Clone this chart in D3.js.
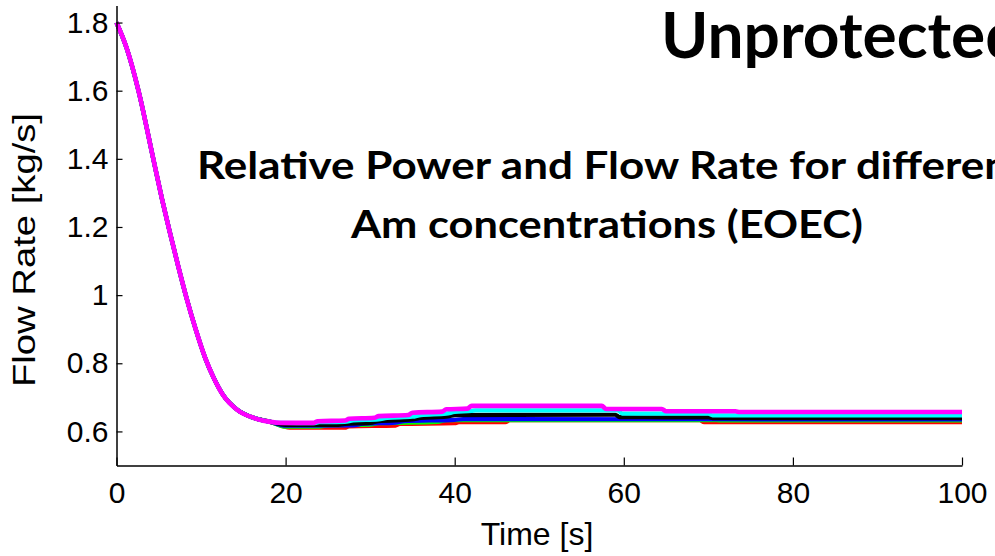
<!DOCTYPE html>
<html>
<head>
<meta charset="utf-8">
<script src="https://cdn.jsdelivr.net/npm/d3@7"></script>
<style>
  html, body { margin: 0; padding: 0; background: #fff; }
  svg { display: block; }
</style>
</head>
<body>
<svg id="chart" width="995" height="556"></svg>
<script>
// ---- Data ----
const xTicks = [0, 20, 40, 60, 80, 100];
const yTicks = [0.6, 0.8, 1.0, 1.2, 1.4, 1.6, 1.8];
const yTickLabels = ["0.6", "0.8", "1", "1.2", "1.4", "1.6", "1.8"];

// common pump coast-down part [time s, flow kg/s]
const coastdown = [[0,1.80],[1.2,1.725],[2.6,1.60],[4.35,1.40],[5.4,1.28],[6.3,1.185],[7.3,1.085],
  [8.3,0.99],[9.3,0.905],[10.5,0.815],[11.5,0.757],[12.6,0.707],[14.3,0.663],[16.2,0.640],[18.2,0.628]];

// plateau parts per Am concentration
const redFlow = [[20.5,0.611],[27,0.611],[27.5,0.615],[33,0.617],[33.5,0.622],[40,0.624],[40.5,0.627],
  [46,0.627],[46.5,0.633],[69,0.633],[69.5,0.627],[100,0.627]];
const greenFlow = [[20,0.614],[24,0.614],[25,0.618],[30,0.620],[31,0.624],[38,0.628],[39,0.633],
  [71,0.633],[71.5,0.632],[100,0.632]];
const blueFlow = [[20,0.617],[28,0.618],[29,0.622],[33,0.626],[34,0.630],[40,0.634],[41,0.636],[100,0.635]];
const blackFlow = [[20,0.619],[26,0.619],[27,0.622],[30,0.625],[31,0.630],[35,0.635],[36,0.640],[39,0.643],
  [40,0.648],[59,0.649],[59.5,0.642],[70,0.641],[70.5,0.639],[100,0.639]];
const cyanFlow = [[19.4,0.625],[23.3,0.624],[24,0.627],[27,0.628],[28,0.632],[31,0.635],[32,0.640],[35,0.643],
  [36,0.648],[39,0.652],[40,0.657],[42,0.660],[42.5,0.662],[59.3,0.662],[59.8,0.652],[70,0.652],[70.5,0.647],[100,0.647]];
const magentaFlow = [[19.4,0.625],[23.3,0.625],[23.8,0.630],[27,0.632],[27.5,0.637],[30.5,0.640],[31,0.645],
  [34.5,0.648],[35,0.655],[38.5,0.658],[39,0.665],[41.5,0.667],[42,0.675],[57.4,0.675],[57.9,0.666],
  [64.5,0.666],[65,0.659],[73.2,0.659],[73.7,0.657],[100,0.657]];

const seriesNames = ["red", "green", "blue", "black", "cyan", "magenta"];
const seriesColors = ["#ff0000", "#00ff00", "#0000ff", "#000000", "#00ffff", "#ff00ff"];
const seriesData = [redFlow, greenFlow, blueFlow, blackFlow, cyanFlow, magentaFlow];

const mainTitle = "Unprotected";
const subTitle1 = "Relative Power and Flow Rate for different";
const subTitle2 = "Am concentrations (EOEC)";
const xLabel = "Time [s]";
const yLabel = "Flow Rate [kg/s]";

// ---- Drawing ----
const svg = d3.select("#chart");
const x = d3.scaleLinear().domain([0, 100]).range([116.5, 962]);
const y = d3.scaleLinear().domain([0.5, 1.85]).range([465.5, 5.5]);

const line = d3.line().x(d => x(d[0])).y(d => y(d[1])).curve(d3.curveMonotoneX);

seriesData.forEach((pts, i) => {
  svg.append("path")
    .datum(coastdown.concat(pts))
    .attr("fill", "none")
    .attr("stroke", seriesColors[i])
    .attr("stroke-width", i === 5 ? 4.6 : 4.2)
    .attr("stroke-linejoin", "round")
    .attr("d", line);
});

const tickFont = "'Liberation Sans', Arial, sans-serif";

const xAxis = d3.axisBottom(x).tickValues(xTicks).tickFormat(d3.format("d"))
  .tickSizeInner(-8).tickSizeOuter(0).tickPadding(16);
const gx = svg.append("g").attr("transform", `translate(0,${y(0.5)})`).call(xAxis);

const yAxis = d3.axisLeft(y).tickValues(yTicks).tickFormat((d, i) => yTickLabels[i])
  .tickSizeInner(-6).tickSizeOuter(0).tickPadding(8);
const gy = svg.append("g").attr("transform", `translate(${x(0)},0)`).call(yAxis);

[gx, gy].forEach(g => {
  g.select(".domain").attr("stroke", "#000").attr("stroke-width", 1.5);
  g.selectAll(".tick line").attr("stroke", "#000").attr("stroke-width", 1.2);
  g.selectAll(".tick text").attr("fill", "#000").style("font-family", tickFont).style("font-size", "30px");
});

svg.append("text")
  .attr("x", 537).attr("y", 545)
  .attr("text-anchor", "middle")
  .style("font-family", tickFont).style("font-size", "32px")
  .text(xLabel);

svg.append("text")
  .attr("transform", "translate(35,250) rotate(-90)")
  .attr("text-anchor", "middle")
  .attr("textLength", 274).attr("lengthAdjust", "spacingAndGlyphs")
  .style("font-family", tickFont).style("font-size", "31px")
  .text(yLabel);

const titleFont = "Lato, 'Open Sans', sans-serif";
svg.append("text")
  .attr("x", 661).attr("y", 58)
  .style("font-family", titleFont).style("font-weight", "bold").style("font-size", "64px")
  .text(mainTitle);

svg.append("text")
  .attr("x", 197).attr("y", 179)
  .attr("textLength", 828).attr("lengthAdjust", "spacingAndGlyphs")
  .style("font-family", titleFont).style("font-weight", "bold").style("font-size", "38px")
  .text(subTitle1);

svg.append("text")
  .attr("x", 351).attr("y", 238)
  .attr("textLength", 512).attr("lengthAdjust", "spacingAndGlyphs")
  .style("font-family", titleFont).style("font-weight", "bold").style("font-size", "38px")
  .text(subTitle2);
</script>
</body>
</html>
